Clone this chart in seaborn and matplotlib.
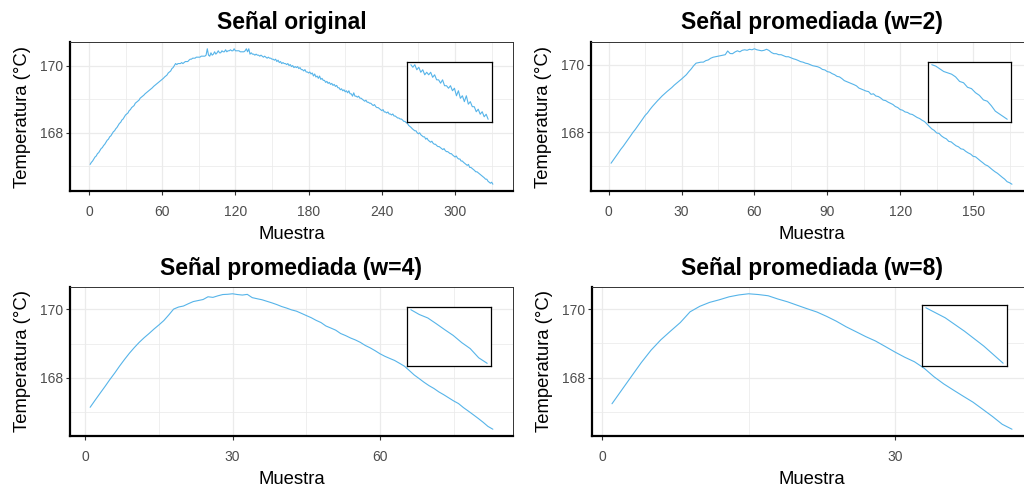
import numpy as np
import pandas as pd
import matplotlib
matplotlib.use("Agg")
import matplotlib.pyplot as plt
from matplotlib.ticker import MultipleLocator
import seaborn as sns

# Temperatura registrada por el sensor, una lectura por muestra (331 muestras)
temperatura = [
    167.06, 167.12, 167.16, 167.22, 167.28, 167.31, 167.38, 167.41, 167.47, 167.53,
    167.56, 167.62, 167.66, 167.72, 167.78, 167.81, 167.88, 167.91, 167.97, 168.03,
    168.06, 168.12, 168.16, 168.22, 168.28, 168.31, 168.38, 168.41, 168.47, 168.53,
    168.56, 168.59, 168.66, 168.69, 168.75, 168.78, 168.81, 168.88, 168.91, 168.94,
    168.97, 169.03, 169.06, 169.09, 169.12, 169.16, 169.19, 169.22, 169.25, 169.28,
    169.31, 169.34, 169.38, 169.41, 169.44, 169.47, 169.50, 169.53, 169.56, 169.59,
    169.62, 169.66, 169.69, 169.72, 169.78, 169.81, 169.84, 169.91, 169.94, 170.00,
    170.06, 170.03, 170.06, 170.06, 170.06, 170.09, 170.06, 170.09, 170.12, 170.12,
    170.12, 170.16, 170.19, 170.19, 170.22, 170.22, 170.22, 170.25, 170.25, 170.25,
    170.25, 170.28, 170.28, 170.28, 170.28, 170.31, 170.50, 170.31, 170.28, 170.38,
    170.31, 170.34, 170.41, 170.34, 170.38, 170.44, 170.38, 170.38, 170.44, 170.41,
    170.41, 170.47, 170.41, 170.44, 170.44, 170.47, 170.44, 170.44, 170.50, 170.44,
    170.44, 170.44, 170.44, 170.41, 170.41, 170.41, 170.41, 170.44, 170.50, 170.41,
    170.50, 170.34, 170.38, 170.34, 170.34, 170.31, 170.34, 170.31, 170.31, 170.28,
    170.31, 170.28, 170.25, 170.28, 170.25, 170.22, 170.25, 170.22, 170.22, 170.19,
    170.19, 170.16, 170.19, 170.12, 170.16, 170.09, 170.12, 170.06, 170.09, 170.06,
    170.06, 170.03, 170.06, 170.00, 170.03, 169.97, 170.00, 169.94, 169.97, 169.94,
    169.97, 169.91, 169.94, 169.88, 169.88, 169.84, 169.88, 169.81, 169.81, 169.78,
    169.81, 169.75, 169.78, 169.69, 169.75, 169.66, 169.69, 169.62, 169.69, 169.59,
    169.62, 169.56, 169.56, 169.50, 169.53, 169.47, 169.50, 169.44, 169.47, 169.41,
    169.44, 169.38, 169.41, 169.34, 169.34, 169.28, 169.31, 169.25, 169.28, 169.22,
    169.25, 169.19, 169.25, 169.16, 169.16, 169.09, 169.19, 169.09, 169.09, 169.06,
    169.09, 169.03, 169.03, 169.00, 168.97, 168.94, 168.97, 168.91, 168.91, 168.88,
    168.88, 168.84, 168.81, 168.84, 168.78, 168.75, 168.75, 168.72, 168.69, 168.66,
    168.69, 168.62, 168.62, 168.59, 168.62, 168.56, 168.56, 168.53, 168.56, 168.50,
    168.50, 168.47, 168.44, 168.44, 168.41, 168.41, 168.38, 168.34, 168.34, 168.30,
    168.28, 168.22, 168.19, 168.16, 168.12, 168.09, 168.06, 168.06, 168.00, 167.97,
    168.00, 167.94, 167.91, 167.88, 167.88, 167.81, 167.84, 167.78, 167.75, 167.72,
    167.75, 167.69, 167.66, 167.66, 167.62, 167.59, 167.59, 167.56, 167.53, 167.50,
    167.53, 167.47, 167.44, 167.44, 167.41, 167.38, 167.38, 167.34, 167.31, 167.28,
    167.31, 167.25, 167.22, 167.22, 167.16, 167.16, 167.12, 167.09, 167.06, 167.03,
    167.06, 166.97, 166.97, 166.94, 166.91, 166.88, 166.84, 166.84, 166.81, 166.78,
    166.75, 166.72, 166.69, 166.66, 166.62, 166.62, 166.56, 166.53, 166.50, 166.53,
    166.47,
]

ventanas = [1, 2, 4, 8]
titulos = ["Señal original", "Señal promediada (w=2)",
           "Señal promediada (w=4)", "Señal promediada (w=8)"]
paso_ticks_x = [60, 30, 30, 30]
paso_ticks_y = 2
# tramo de muestras originales que se amplía en el recuadro
tramo_inicio, tramo_fin = 161, 200

AZUL = "#56B4E9"
W, H = 1024, 487

# posiciones en píxeles (x0, y0, x1, y1) de cada panel y de su recuadro
paneles = [(70, 42, 513, 191), (591, 42, 1032, 191),
           (70, 287, 513, 436), (592, 287, 1032, 436)]
recuadros = [(407, 62, 492, 122), (928, 62, 1011, 122),
             (407, 307, 491, 366), (922, 305, 1007, 366)]


def promediar(valores, w):
    v = np.asarray(valores, dtype=float)
    n = int(np.ceil(len(v) / w))
    return np.array([v[i * w:(i + 1) * w].mean() for i in range(n)])


def caja(x0, y0, x1, y1):
    return [x0 / W, 1 - y1 / H, (x1 - x0) / W, (y1 - y0) / H]


sns.set_theme(style="white")
plt.rcParams["font.family"] = ["Liberation Sans", "DejaVu Sans"]

fig = plt.figure(figsize=(W / 100, H / 100), dpi=100)

for w, titulo, paso_x, pan, rec in zip(ventanas, titulos, paso_ticks_x, paneles, recuadros):
    senal = promediar(temperatura, w)
    n = len(senal)
    df = pd.DataFrame({"Muestra": np.arange(1, n + 1), "Temperatura": senal})

    ax = fig.add_axes(caja(*pan))
    sns.lineplot(data=df, x="Muestra", y="Temperatura", ax=ax,
                 color=AZUL, linewidth=0.8, estimator=None)

    ax.set_xlim(1 - 0.05 * (n - 1), n + 0.05 * (n - 1))
    lo, hi = senal.min(), senal.max()
    r = hi - lo
    ax.set_ylim(lo - 0.05 * r, hi + 0.05 * r)

    ax.xaxis.set_major_locator(MultipleLocator(paso_x))
    ax.xaxis.set_minor_locator(MultipleLocator(paso_x / 2))
    ax.yaxis.set_major_locator(MultipleLocator(paso_ticks_y))
    ax.yaxis.set_minor_locator(MultipleLocator(paso_ticks_y / 2))

    ax.set_axisbelow(True)
    ax.grid(which="major", color="#EBEBEB", linewidth=0.9)
    ax.grid(which="minor", color="#EBEBEB", linewidth=0.55)

    ax.tick_params(which="major", length=3, width=0.8, color="#333333",
                   labelsize=10, labelcolor="#4D4D4D",
                   bottom=True, left=True)
    ax.tick_params(axis="x", which="major", pad=7)
    ax.tick_params(axis="y", which="major", pad=2)
    ax.tick_params(which="minor", length=0)

    for lado in ("top", "right"):
        ax.spines[lado].set_color("#333333")
        ax.spines[lado].set_linewidth(0.7)
    for lado in ("left", "bottom"):
        ax.spines[lado].set_color("black")
        ax.spines[lado].set_linewidth(1.6)

    ax.set_xlabel("Muestra", fontsize=13.3, color="black", labelpad=5)
    ax.set_ylabel("Temperatura (°C)", fontsize=13.3, color="black", labelpad=6.5)
    ax.set_title(titulo, fontsize=16.5, fontweight="bold", color="black", pad=9)

    # recuadro con el tramo ampliado
    i0 = (tramo_inicio - 1) // w
    i1 = int(np.ceil(tramo_fin / w))
    sub = df.iloc[i0:i1]
    axr = fig.add_axes(caja(*rec))
    axr.set_facecolor("white")
    sns.lineplot(data=sub, x="Muestra", y="Temperatura", ax=axr,
                 color=AZUL, linewidth=0.8, estimator=None)
    axr.set_xticks([])
    axr.set_yticks([])
    axr.set_xlabel("")
    axr.set_ylabel("")
    for esp in axr.spines.values():
        esp.set_color("black")
        esp.set_linewidth(0.9)

fig.savefig("out.png", dpi=100)
